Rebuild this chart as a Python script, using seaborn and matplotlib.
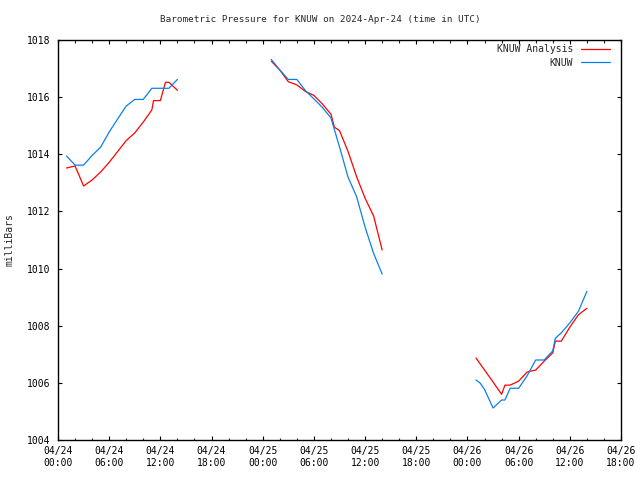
import matplotlib
matplotlib.use("Agg")
import matplotlib.pyplot as plt
import seaborn as sns
import pandas as pd
import numpy as np
from matplotlib.ticker import MultipleLocator, FixedLocator

# ---- data (hours since 2024-04-24 00:00 UTC, pressure in mb) ----
ana_seg1_h = [1, 2, 3, 4, 5, 6, 7, 8, 9, 10, 11, 11.2, 12, 12.6, 13, 14]
ana_seg1_p = [1013.52, 1013.59, 1012.89, 1013.10, 1013.38, 1013.72, 1014.10, 1014.48,
              1014.75, 1015.13, 1015.55, 1015.88, 1015.88, 1016.52, 1016.52, 1016.24]
ana_seg2_h = [25, 26, 27, 28, 29, 30, 31, 32, 32.4, 33, 34, 35, 36, 37, 38]
ana_seg2_p = [1017.26, 1016.95, 1016.54, 1016.43, 1016.20, 1016.06, 1015.76, 1015.40,
              1014.95, 1014.83, 1014.10, 1013.22, 1012.46, 1011.84, 1010.65]
ana_seg3_h = [49, 50, 51, 52, 52.4, 53, 54, 55, 56, 57, 58, 58.3, 59, 60, 61, 62]
ana_seg3_p = [1006.87, 1006.45, 1006.03, 1005.60, 1005.92, 1005.92, 1006.06, 1006.38,
              1006.45, 1006.76, 1007.05, 1007.46, 1007.46, 1007.95, 1008.38, 1008.61]

obs_seg1_h = [1, 2, 3, 4, 5, 6, 7, 8, 9, 10, 11, 12, 13, 14]
obs_seg1_p = [1013.94, 1013.62, 1013.62, 1013.96, 1014.25, 1014.78, 1015.24, 1015.69,
              1015.92, 1015.92, 1016.31, 1016.31, 1016.31, 1016.62]
obs_seg2_h = [25, 26, 27, 28, 29, 30, 31, 32, 33, 34, 35, 36, 37, 38]
obs_seg2_p = [1017.32, 1016.95, 1016.62, 1016.62, 1016.23, 1015.94, 1015.64, 1015.27,
              1014.26, 1013.20, 1012.52, 1011.45, 1010.53, 1009.81]
obs_seg3_h = [49, 49.5, 50, 51, 52, 52.4, 53, 54, 55, 56, 57, 58, 58.3, 59, 60, 61, 62]
obs_seg3_p = [1006.10, 1005.99, 1005.77, 1005.12, 1005.40, 1005.40, 1005.81, 1005.81,
              1006.25, 1006.80, 1006.80, 1007.12, 1007.56, 1007.75, 1008.10, 1008.50, 1009.20]

series_names = ["KNUW Analysis", "KNUW"]
series_colors = ["#ff0000", "#0a80ea"]

xtick_hours = [0, 6, 12, 18, 24, 30, 36, 42, 48, 54, 60, 66]
xtick_labels = ["04/24\n00:00", "04/24\n06:00", "04/24\n12:00", "04/24\n18:00",
                "04/25\n00:00", "04/25\n06:00", "04/25\n12:00", "04/25\n18:00",
                "04/26\n00:00", "04/26\n06:00", "04/26\n12:00", "04/26\n18:00"]
ytick_values = [1004, 1006, 1008, 1010, 1012, 1014, 1016, 1018]

title_text = "Barometric Pressure for KNUW on 2024-Apr-24 (time in UTC)"
ylabel_text = "milliBars"

# ---- build table ----
rows = []
for name, segs in [
    (series_names[0], [(ana_seg1_h, ana_seg1_p), (ana_seg2_h, ana_seg2_p), (ana_seg3_h, ana_seg3_p)]),
    (series_names[1], [(obs_seg1_h, obs_seg1_p), (obs_seg2_h, obs_seg2_p), (obs_seg3_h, obs_seg3_p)]),
]:
    for i, (hs, ps) in enumerate(segs):
        for h, p in zip(hs, ps):
            rows.append({"series": name, "segment": i, "hour": h, "pressure": p})
df = pd.DataFrame(rows)

sns.set_theme(style="ticks")
plt.rcParams["font.family"] = ["DejaVu Sans Mono", "DejaVu Sans"]
plt.rcParams["font.size"] = 7

fig = plt.figure(figsize=(6.4, 4.8), dpi=100)
ax = fig.add_axes([58 / 640, 1 - 440 / 480, (621 - 58) / 640, 400 / 480])

sns.lineplot(data=df, x="hour", y="pressure", hue="series", units="segment",
             estimator=None, hue_order=series_names,
             palette=dict(zip(series_names, series_colors)),
             linewidth=0.9, ax=ax, legend=True, sort=False)

ax.set_xlim(0, 66)
ax.set_ylim(1004, 1018)
ax.xaxis.set_major_locator(FixedLocator(xtick_hours))
ax.set_xticklabels(xtick_labels, linespacing=1.35)
ax.xaxis.set_minor_locator(MultipleLocator(2))
ax.set_yticks(ytick_values)
ax.set_yticklabels([str(v) for v in ytick_values])

ax.tick_params(axis="both", which="major", direction="in", length=3.2, width=0.8,
               top=True, right=True, labelsize=7, color="black", labelcolor="black")
ax.tick_params(axis="both", which="minor", direction="in", length=1.8, width=0.8,
               top=True, right=True)
ax.tick_params(axis="y", which="major", pad=5.5)
ax.tick_params(axis="x", which="major", pad=4)
for sp in ax.spines.values():
    sp.set_visible(True)
    sp.set_color("black")
    sp.set_linewidth(1.0)

ax.set_xlabel("")
ax.set_ylabel(ylabel_text, fontsize=7)
ax.yaxis.set_label_coords(-0.0765, 0.5)
fig.text(0.5 + 0.5 / 640, 1 - 19 / 480, title_text, ha="center", va="center", fontsize=6.7)

handles, labels = ax.get_legend_handles_labels()
ax.legend(handles, labels, loc="upper right", bbox_to_anchor=(610 / 640, 1 - 44.5 / 480),
          bbox_transform=fig.transFigure, frameon=False, markerfirst=False,
          handlelength=3.0, handletextpad=0.8, labelspacing=0.35, borderpad=0,
          borderaxespad=0, fontsize=7)

fig.savefig("out.png", dpi=100, facecolor="white")
